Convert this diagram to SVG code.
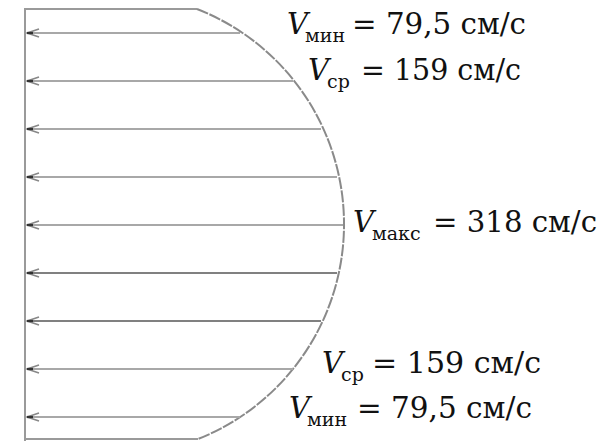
<svg xmlns="http://www.w3.org/2000/svg" width="610" height="441" viewBox="0 0 610 441">
<style>
.frame{stroke:#9a9a9a;stroke-width:2;fill:none}
.vl{stroke:#a8a8a8;stroke-width:2;fill:none;marker-end:url(#arr)}
.vd{stroke:#808080;stroke-width:2;fill:none;marker-end:url(#arr)}
.arc{stroke:#8a8a8a;stroke-width:2;fill:none;stroke-dasharray:12 1.5}
text{font-family:'DejaVu Serif', serif;font-size:29px;fill:#111}
.v{font-style:italic}
.s{font-size:19px}
</style>
<defs>
<marker id="arr" markerUnits="userSpaceOnUse" markerWidth="16" markerHeight="12" refX="15" refY="6" orient="auto" viewBox="0 0 16 12">
<path d="M3,2 L15,6 L3,10" fill="none" stroke="#888" stroke-width="1.6"/>
<path d="M9,6 L15,6" stroke="#333" stroke-width="2.2"/>
</marker>
</defs>
<g id="profile">
<path class="frame" d="M197,9 L25,9 L25,441"/>
<path class="frame" d="M25,439 L198,439"/>
<path class="arc" d="M197,9 A231,231 0 0 1 198,439"/>
</g>
<g id="connectors">
<line class="vl" x1="240" y1="33" x2="27" y2="33"/>
<line class="vl" x1="293" y1="81" x2="27" y2="81"/>
<line class="vl" x1="321" y1="129" x2="27" y2="129"/>
<line class="vl" x1="337" y1="177" x2="27" y2="177"/>
<line class="vl" x1="343" y1="225" x2="27" y2="225"/>
<line class="vd" x1="337" y1="273" x2="27" y2="273"/>
<line class="vd" x1="321" y1="321" x2="27" y2="321"/>
<line class="vl" x1="293" y1="369" x2="27" y2="369"/>
<line class="vl" x1="240" y1="417" x2="27" y2="417"/>
</g>
<g id="label-vmin-top">
<text y="34"><tspan class="v" x="287">V</tspan><tspan class="s" x="305" y="42">мин</tspan><tspan x="352" y="34" textLength="174" lengthAdjust="spacingAndGlyphs">= 79,5 см/с</tspan></text>
</g>
<g id="label-vsr-top">
<text y="80"><tspan class="v" x="308">V</tspan><tspan class="s" x="327" y="88">ср</tspan><tspan x="361" y="80" textLength="160" lengthAdjust="spacingAndGlyphs">= 159 см/с</tspan></text>
</g>
<g id="label-vmax">
<text y="232"><tspan class="v" x="353">V</tspan><tspan class="s" x="372" y="240">макс</tspan><tspan x="433" y="232" textLength="164" lengthAdjust="spacingAndGlyphs">= 318 см/с</tspan></text>
</g>
<g id="label-vsr-bottom">
<text y="373"><tspan class="v" x="322">V</tspan><tspan class="s" x="341" y="381">ср</tspan><tspan x="372" y="373" textLength="169" lengthAdjust="spacingAndGlyphs">= 159 см/с</tspan></text>
</g>
<g id="label-vmin-bottom">
<text y="418"><tspan class="v" x="289">V</tspan><tspan class="s" x="307" y="426">мин</tspan><tspan x="357" y="418" textLength="175" lengthAdjust="spacingAndGlyphs">= 79,5 см/с</tspan></text>
</g>
</svg>
